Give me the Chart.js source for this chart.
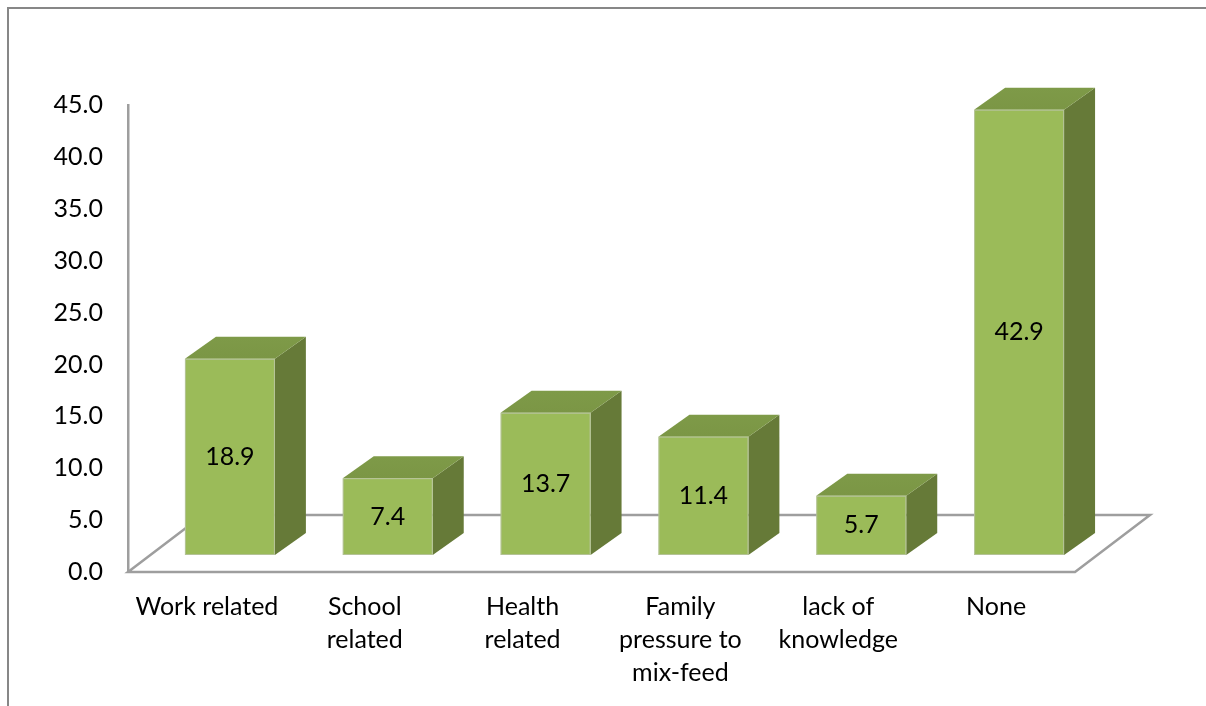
<!DOCTYPE html>
<html>
<head>
<meta charset="utf-8">
<script src="https://cdn.jsdelivr.net/npm/chart.js@4"></script>
<style>
  html, body { margin: 0; padding: 0; background: #ffffff; }
  #wrap { position: relative; width: 1206px; height: 706px; }
  canvas { display: block; }
</style>
</head>
<body>
<div id="wrap"><canvas id="c" width="1206" height="706"></canvas></div>
<script>
const categories = [
  ['Work related'],
  ['School', 'related'],
  ['Health', 'related'],
  ['Family', 'pressure to', 'mix-feed'],
  ['lack of', 'knowledge'],
  ['None']
];
const values = [18.9, 7.4, 13.7, 11.4, 5.7, 42.9];
const yMin = 0;
const yMax = 45;
const yStep = 5;

const FONT = 'Lato, "Liberation Sans", sans-serif';
const FONT_SIZE = 25;
const FRONT = '#9BBB59';
const TOP = '#7B9645';
const SIDE = '#667A38';
const LINE = '#9E9E9E';

// 3D styling offsets (pixels)
const BAR_DEPTH = { dx: 31, dy: -22 };
const BAR_SHIFT = { dx: 23, dy: -17 };
const FLOOR_DEPTH = { dx: 75, dy: -57 };

const frame3d = {
  id: 'frame3d',
  beforeDraw(chart) {
    const ctx = chart.ctx;
    ctx.save();
    ctx.strokeStyle = '#878787';
    ctx.lineWidth = 2;
    ctx.beginPath();
    ctx.moveTo(8, 706);
    ctx.lineTo(8, 8);
    ctx.lineTo(1206, 8);
    ctx.stroke();
    ctx.restore();
  },
  beforeDatasetsDraw(chart) {
    const ctx = chart.ctx;
    const a = chart.chartArea;
    const y0 = chart.scales.y.getPixelForValue(0);
    ctx.save();
    ctx.strokeStyle = LINE;
    ctx.lineWidth = 2.5;
    ctx.lineJoin = 'miter';
    ctx.beginPath();
    ctx.moveTo(a.left, y0);
    ctx.lineTo(a.left + FLOOR_DEPTH.dx, y0 + FLOOR_DEPTH.dy);
    ctx.lineTo(a.right + FLOOR_DEPTH.dx, y0 + FLOOR_DEPTH.dy);
    ctx.lineTo(a.right, y0);
    ctx.closePath();
    ctx.stroke();
    ctx.restore();
  },
  afterDatasetsDraw(chart) {
    const ctx = chart.ctx;
    const meta = chart.getDatasetMeta(0);
    const ds = chart.data.datasets[0];
    ctx.save();
    meta.data.forEach((el, i) => {
      const p = el.getProps(['x', 'y', 'base', 'width'], true);
      const x0 = p.x - p.width / 2 + BAR_SHIFT.dx;
      const x1 = p.x + p.width / 2 + BAR_SHIFT.dx;
      const yt = p.y + BAR_SHIFT.dy;
      const yb = p.base + BAR_SHIFT.dy;
      const dx = BAR_DEPTH.dx, dy = BAR_DEPTH.dy;
      // side face
      ctx.fillStyle = SIDE;
      ctx.beginPath();
      ctx.moveTo(x1, yt);
      ctx.lineTo(x1 + dx, yt + dy);
      ctx.lineTo(x1 + dx, yb + dy);
      ctx.lineTo(x1, yb);
      ctx.closePath();
      ctx.fill();
      // top face
      const g = ctx.createLinearGradient(0, yt + dy, 0, yt);
      g.addColorStop(0, '#7E9A48');
      g.addColorStop(1, TOP);
      ctx.fillStyle = g;
      ctx.beginPath();
      ctx.moveTo(x0, yt);
      ctx.lineTo(x0 + dx, yt + dy);
      ctx.lineTo(x1 + dx, yt + dy);
      ctx.lineTo(x1, yt);
      ctx.closePath();
      ctx.fill();
      // front face
      ctx.fillStyle = FRONT;
      ctx.fillRect(x0, yt, x1 - x0, yb - yt);
      // faint edges
      ctx.strokeStyle = 'rgba(200,200,200,0.55)';
      ctx.lineWidth = 1;
      ctx.strokeRect(x0 + 0.5, yt + 0.5, x1 - x0 - 1, yb - yt - 1);
      // value label
      ctx.fillStyle = '#000000';
      ctx.font = FONT_SIZE + 'px ' + FONT;
      ctx.textAlign = 'center';
      ctx.textBaseline = 'middle';
      ctx.fillText(ds.data[i].toFixed(1), (x0 + x1) / 2, (yt + yb) / 2);
    });
    ctx.restore();
  }
};

new Chart(document.getElementById('c'), {
  type: 'bar',
  data: {
    labels: categories,
    datasets: [{
      data: values,
      backgroundColor: 'rgba(0,0,0,0)',
      borderWidth: 0,
      barPercentage: 0.57,
      categoryPercentage: 1.0
    }]
  },
  options: {
    responsive: false,
    devicePixelRatio: 1,
    animation: false,
    events: [],
    layout: { padding: { top: 105, right: 131, left: 0, bottom: 0 } },
    plugins: {
      legend: { display: false },
      tooltip: { enabled: false },
      title: { display: false }
    },
    scales: {
      x: {
        grid: { display: false, drawTicks: false },
        border: { display: false },
        ticks: {
          color: '#000000',
          font: { family: FONT, size: FONT_SIZE, lineHeight: 1.33 },
          padding: 18,
          maxRotation: 0,
          minRotation: 0,
          autoSkip: false
        },
        afterFit(scale) { scale.height = 134; }
      },
      y: {
        min: yMin,
        max: yMax,
        grid: { display: false, drawTicks: false },
        border: { display: true, color: LINE, width: 2.5 },
        ticks: {
          stepSize: yStep,
          color: '#000000',
          font: { family: FONT, size: FONT_SIZE },
          padding: 25,
          callback: (v) => Number(v).toFixed(1)
        },
        afterFit(scale) { scale.width = 128; }
      }
    }
  },
  plugins: [frame3d]
});
</script>
</body>
</html>
